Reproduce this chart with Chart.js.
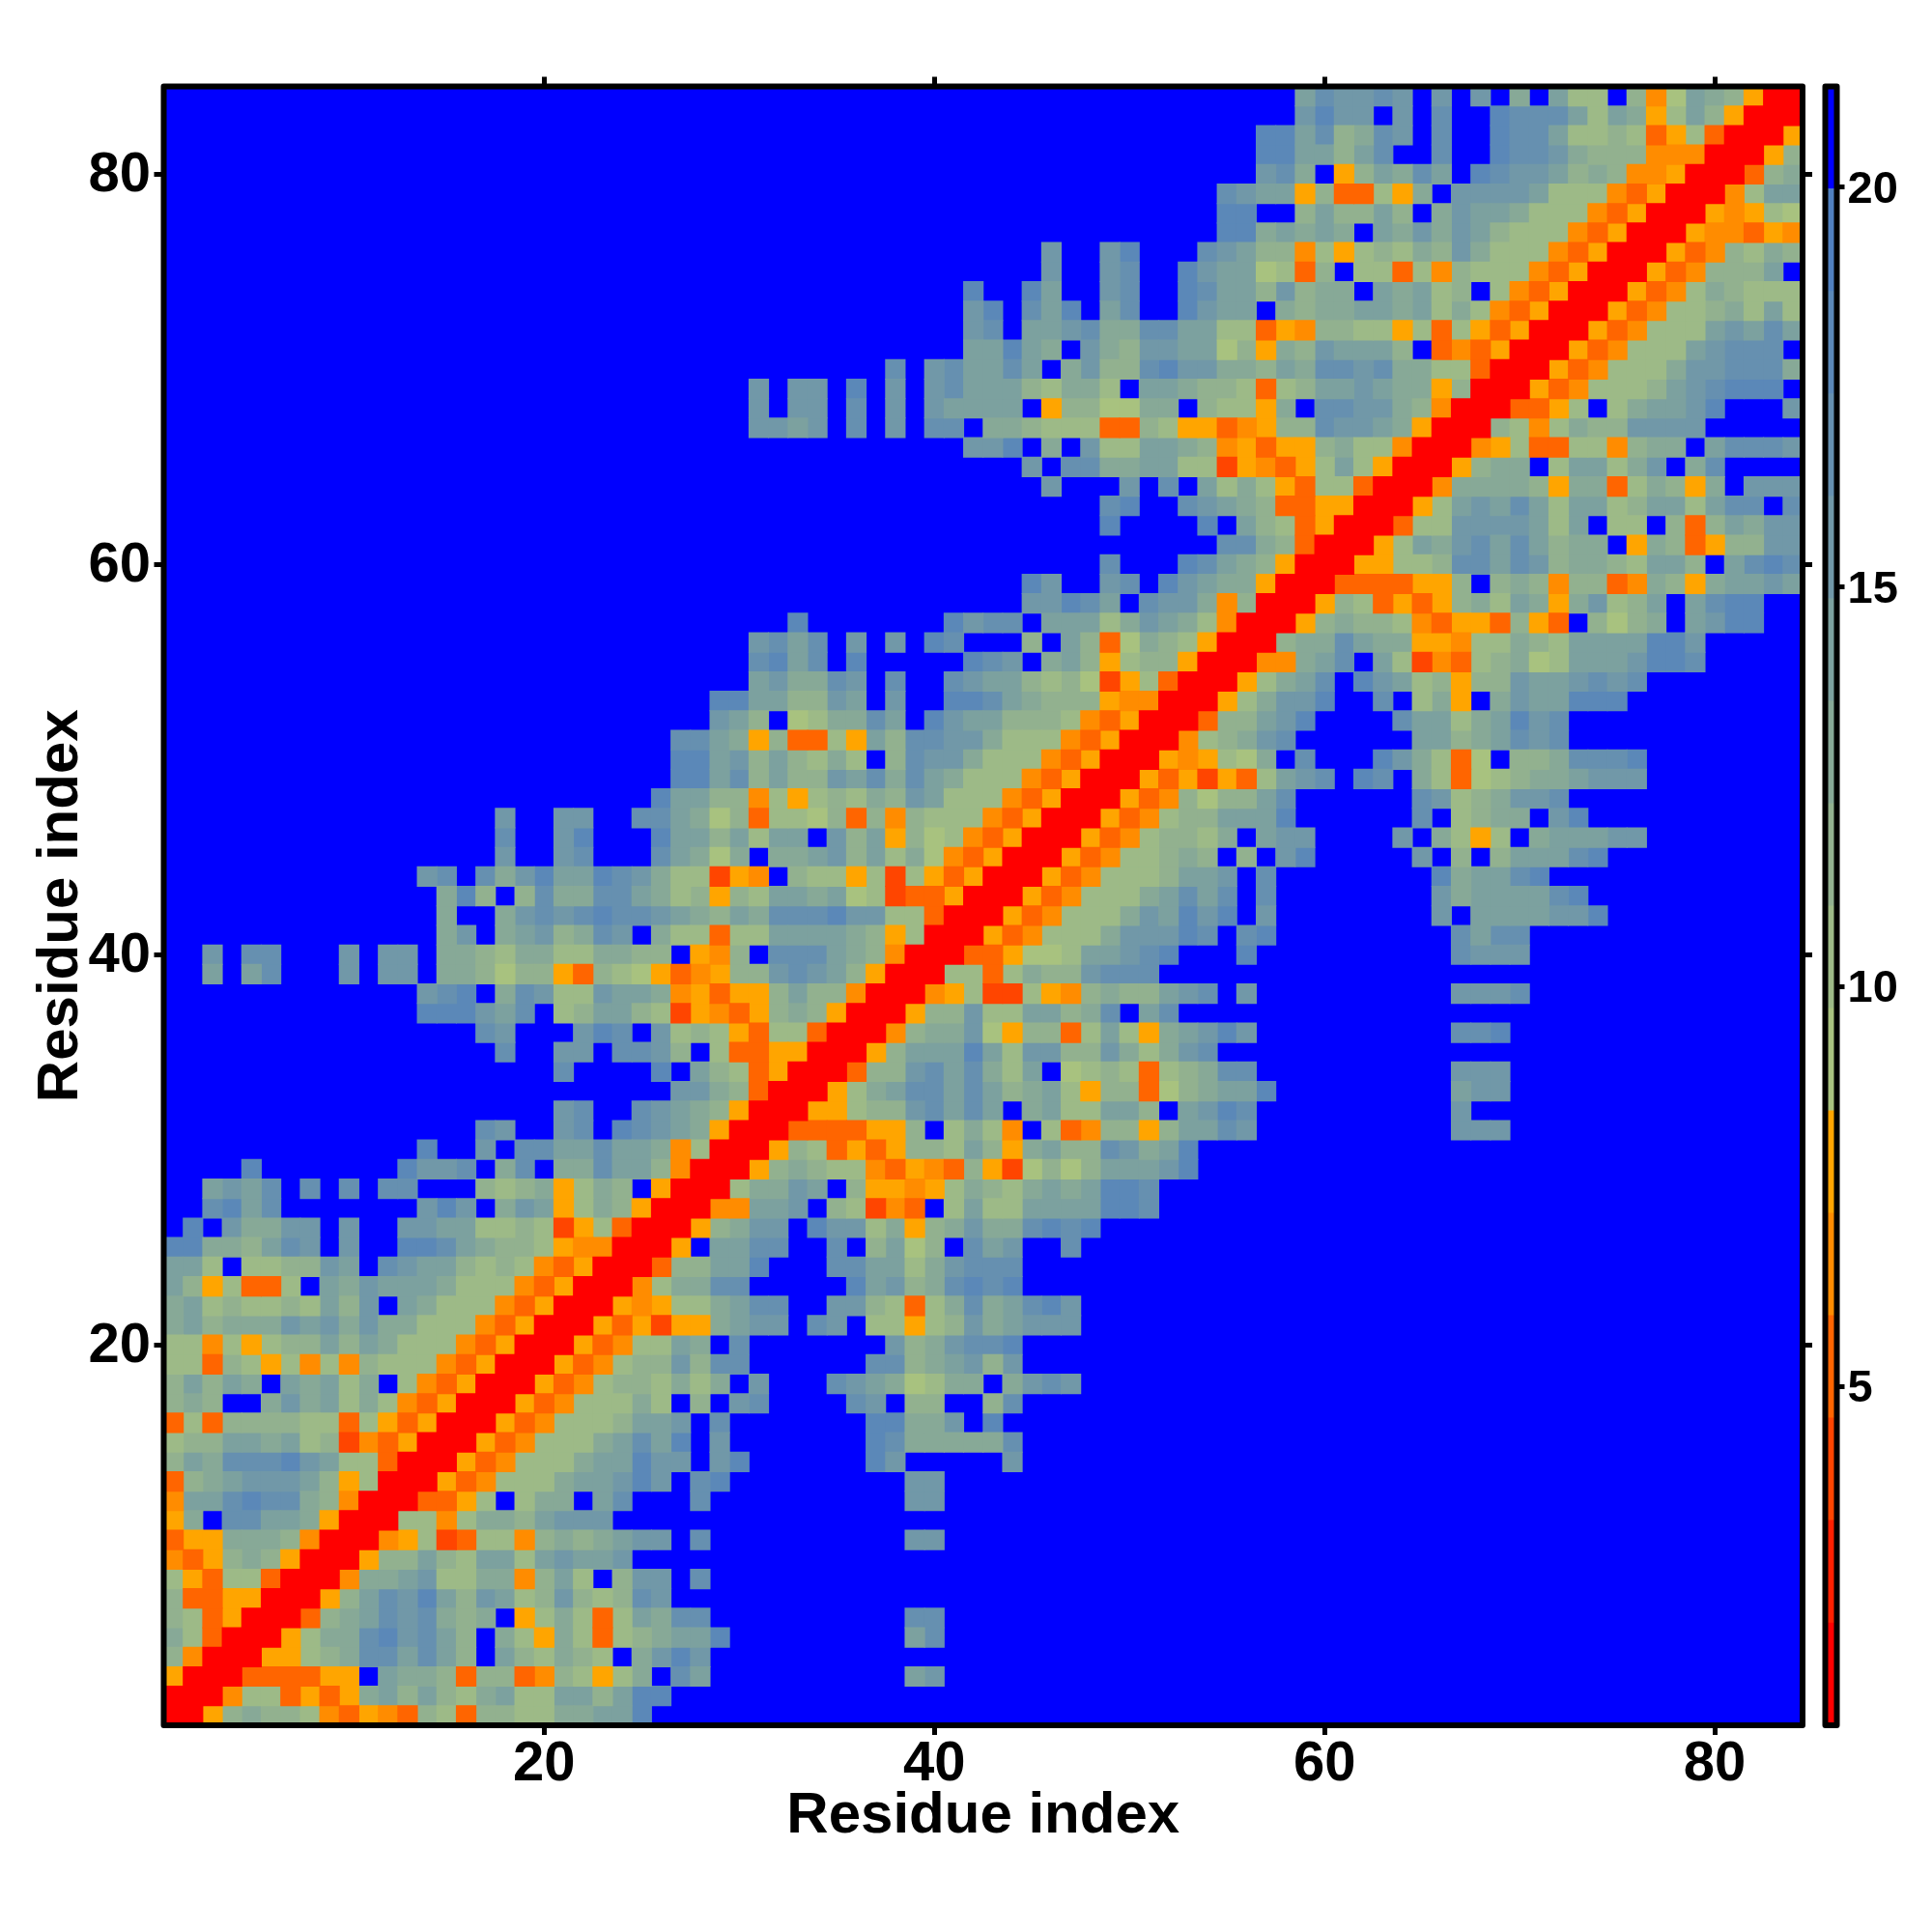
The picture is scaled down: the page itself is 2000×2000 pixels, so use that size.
<!DOCTYPE html>
<html>
<head>
<meta charset="utf-8">
<title>Residue distance map</title>
<script src="https://cdn.jsdelivr.net/npm/chart.js@4/dist/chart.umd.min.js"></script>
<style>
  html, body { margin: 0; background: #fff; }
  canvas { position: absolute; top: 0; }
  #map { left: 0; }
  #bar { left: 1870px; }
</style>
</head>
<body>
<canvas id="map" width="2000" height="2000"></canvas>
<canvas id="bar" width="130" height="2000"></canvas>
<script>
// Distance map is symmetric, so only one triangle is stored: row k holds residues 1..k.
const distanceRows = [
  "a","aa","eaa","3daa","42caa","32ceaa","3cceeaa","2ec22caa","dce343eaa","cee4443daa",
  "e4.77554eaa","d55787743daa","c34566653e2aa","35477786522caa","233554523bdceaa","c2c333322c2eceaa",
  "343..4645242dceaa","35354.54524.2dceaa","22c32e2d2d3222dceaa","22d2e2335354222dceaa",
  "4534446564644222dceaa","45232232536.54222dceaa","53e2cc2.5465554222dceaa","552.223365.76553232dceaa",
  "88443576.6..88754332eddaa",".8.64466.6..66552232be2caa","..7857.......686.465e243eaa","..5657.7.7.77...3234e243.eaa",
  "....8.......8667.47.447553daa",".............8..6.77557554d2aa","................76..67.87654eaa","....................67..76543eaa",
  "..........................6643caa","....................7....8.532ceaa",".................7..66.7763.2cceeaa","................76...687.6232ec22caa",
  ".............888657.235532bedce343eaa",".............678.476226554decee3533daa",
  "..5.57...6.66.443133ec321ecde3367653eaa","..6.77...6.66.443244224433.ed3.777543daa",
  "..............46.4563476.422c22555543e2aa","..............4..4676787765435477786622caa",
  "..............483.3744775423e32554512bcceaa",".............67.746855876422bed.322e2b2eceaa",
  ".................6..67...75414.445635241dceaa",".................7..68...85535255.635e312dceaa",
  ".................6..66..775413c2213c3d3222dceaa",".........................85533d2e2324365222dceaa",
  "..........................885735336574754222dceaa","..........................8856353242.37664222dceaa",
  "..........................7754e3cc2e5377664222dceaa","............................653.124475.86553332dceaa",
  "............................88553365.6..88754333eddaa","..............................564476.7..76553231be2caa",
  "..............................7857.8.....876.453e233eaa","..............................6757.6.6.87...3.53c1432eaa",
  "................................8.......8677.555246542daa","............................................66875.7664d3aa",
  "............................................86..67.86544eaa","................................................7...87543eaa",
  "......................................................7743caa","................................................8....8.532ceaa",
  "................................................78..76543cceeaa",".............................................6...6.7.5242ec22caa",
  "............................................6.77445522bedce252eaa",".........................................668.4.6225543decee3422daa",
  "..............................6656.7.6.77.443222cc32eecde3376654eaa","..............................6.66.7.6.65555.e331144.322e4.776643daa",
  "..............................6.66.8.6.6755532442.554332c23556544e3aa",".....................................7.675575.463378664435477674422caa",
  ".........................................55854.643665513e4365553.cdceaa",".........................................67.556744775522ced3322e2c2eceaa",
  ".........................................68.758.57..8655.43445545242dceaa",".........................................8..85..67..875536344.54523.2dceaa",
  ".............................................6..67..865512c3.22c2d3222dceaa",".............................................6..68...76533d2e2324364222dceaa",
  "......................................................8845454.5464653222dceaa","......................................................88..353353.46554222dceaa",
  "......................................................7655e3cc2e4.66665222dceaa","........................................................674.e35475.87665343ddeaa",
  "........................................................8855357..7..87764333dddaa","........................................................88573476.7..87752232ce2caa",
  "..........................................................6866.6.7..87775254e253eaa","..........................................................576676.6.6.4.522.3d1543eaa"
];
// code letter -> distance read against the colour bar
const codes     = ["a", "b", "c", "d", "e", "1", "2", "3", "4", "5", "6", "7", "8", "9", "."];
const distances = [2, 4, 5, 6.5, 8, 9, 10.4, 11.7, 13, 14.3, 15.6, 16.8, 18, 19.4, 21];

const residueCount = 84;
const axisTicks = [20, 40, 60, 80];
const barTicks = [5, 10, 15, 20];
const barMin = 0.76;
const barMax = 21.26;
const barColors = [
  "#ff0000", "#ff2000", "#ff4500", "#ff6500", "#ff8c00", "#ffa500",
  "#a8c27f", "#9dba87", "#92b18f", "#87a997", "#7ca19f", "#7198a8", "#6690b0", "#5b88b8", "#5080c0",
  "#0000ff"
];
const axisTitle = "Residue index";

const FONT = "'Liberation Sans', Arial, Helvetica, sans-serif";
const bandSize = (barMax - barMin) / barColors.length;

// rebuild the full matrix from the stored triangle
const distanceAt = (i, j) => {
  const k = Math.max(i, j);
  const row = distanceRows[k - 1].padStart(k, ".");
  return distances[codes.indexOf(row[Math.min(i, j) - 1])];
};

const cellsByBand = barColors.map(() => []);
for (let j = 1; j <= residueCount; j++) {
  for (let i = 1; i <= residueCount; i++) {
    const d = distanceAt(i, j);
    const band = Math.min(barColors.length - 1, Math.floor((d - barMin) / bandSize));
    cellsByBand[band].push({ x: i, y: j });
  }
}

// black box on top of the cells, round corners like the original
const frameBox = {
  id: "frameBox",
  afterDatasetsDraw(chart) {
    const { ctx, chartArea: a } = chart;
    ctx.save();
    ctx.strokeStyle = "#000";
    ctx.lineWidth = 6;
    ctx.lineJoin = "round";
    ctx.strokeRect(a.left, a.top, a.right - a.left, a.bottom - a.top);
    ctx.restore();
  }
};

const setTicks = (values) => (scale) => { scale.ticks = values.map((v) => ({ value: v })); };

const tickGrid = { drawOnChartArea: false, drawTicks: true, tickLength: 10, tickWidth: 5, tickColor: "#000" };
const tickFont = { family: FONT, size: 58, weight: "bold" };
const titleOpts = (padding) => ({
  display: true,
  text: axisTitle,
  color: "#000",
  font: { family: FONT, size: 60, weight: "bold" },
  padding: padding
});

const mapAxis = (axis, position, size, labels, labelPad, title) => ({
  type: "linear",
  axis: axis,
  position: position,
  min: 0.5,
  max: residueCount + 0.5,
  afterBuildTicks: setTicks(axisTicks),
  afterFit(scale) {
    if (axis === "x") scale.height = size;
    else scale.width = size;
  },
  grid: tickGrid,
  border: { display: false },
  ticks: {
    display: labels, color: "#000", font: tickFont, maxRotation: 0, autoSkip: false,
    padding: labelPad, labelOffset: axis === "y" ? 2 : 0
  },
  title: title || { display: false }
});

new Chart(document.getElementById("map"), {
  type: "scatter",
  data: {
    datasets: cellsByBand.map((cells, b) => ({
      data: cells,
      pointStyle: "rect",
      pointRadius: 15,
      pointHoverRadius: 15,
      pointBorderWidth: 0,
      pointBackgroundColor: barColors[b],
      xAxisID: "x",
      yAxisID: "y"
    }))
  },
  options: {
    responsive: false,
    animation: false,
    devicePixelRatio: 1,
    layout: { padding: 0 },
    plugins: { legend: { display: false }, tooltip: { enabled: false } },
    scales: {
      x: mapAxis("x", "bottom", 214, true, -4, titleOpts({ top: 0, bottom: 83.5 })),
      xTop: mapAxis("x", "top", 89.5, false, 0),
      y: mapAxis("y", "left", 169.5, true, 3.5, titleOpts({ top: 27.5, bottom: 0 })),
      yRight: mapAxis("y", "right", 134, false, 0)
    }
  },
  plugins: [frameBox]
});

new Chart(document.getElementById("bar"), {
  type: "bar",
  data: {
    labels: [""],
    datasets: barColors.map((color, b) => ({
      data: [[barMin + b * bandSize, barMin + (b + 1) * bandSize]],
      backgroundColor: color,
      borderWidth: 0,
      barPercentage: 1,
      categoryPercentage: 1
    }))
  },
  options: {
    responsive: false,
    animation: false,
    devicePixelRatio: 1,
    layout: { padding: { left: 19.5, top: 89.5, bottom: 214, right: 0 } },
    plugins: { legend: { display: false }, tooltip: { enabled: false } },
    scales: {
      x: { display: false, stacked: true },
      y: {
        position: "right",
        min: barMin,
        max: barMax,
        afterBuildTicks: setTicks(barTicks),
        afterFit(scale) { scale.width = 98.5; },
        grid: { drawOnChartArea: false, tickLength: 8, tickWidth: 5, tickColor: "#000" },
        border: { display: false },
        ticks: { color: "#000", font: { family: FONT, size: 47, weight: "bold" }, padding: 3, labelOffset: 3 }
      }
    }
  },
  plugins: [frameBox]
});
</script>
</body>
</html>
